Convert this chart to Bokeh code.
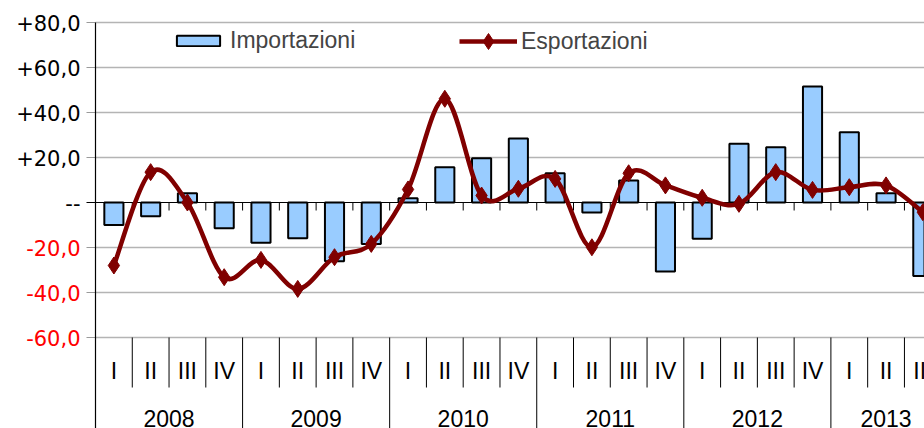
import numpy as np
from bokeh.plotting import figure
from bokeh.models import (ColumnDataSource, Range1d, Legend, LegendItem, BoxAnnotation)
from bokeh.core.properties import value
from bokeh.embed import file_html
from bokeh.resources import INLINE

# ---------------- data ----------------
years = ["2008", "2009", "2010", "2011", "2012", "2013"]
quarters_per_year = [4, 4, 4, 4, 4, 3]
quarter_names = ["I", "II", "III", "IV"]
importazioni = [-10.0, -6.1, 4.1, -11.4, -17.9, -15.9, -26.1, -18.4,
                1.9, 15.7, 19.7, 28.4, 13.0, -4.4, 9.8, -30.7,
                -16.1, 26.1, 24.6, 51.6, 31.2, 4.1, -32.7]
esportazioni = [-28.0, 13.5, 0.0, -33.2, -25.5, -38.4, -24.3, -18.4,
                5.8, 46.1, 3.1, 6.1, 10.5, -19.9, 13.0, 7.6,
                2.1, -0.6, 13.5, 5.6, 6.8, 7.6, -4.3]
y_tick_values = [-60, -40, -20, 0, 20, 40, 60, 80]
y_tick_labels = ["-60,0", "-40,0", "-20,0", "--", "+20,0", "+40,0", "+60,0", "+80,0"]
y_tick_colors = ["#ff0000", "#ff0000", "#ff0000", "#000000", "#000000", "#000000", "#000000", "#000000"]

# ---------------- layout (pixels) ----------------
W, H = 924, 428
AXIS_PX = 95        # x pixel of the value axis
ZERO_PX = 202       # y pixel of value 0
CAT_PX = 36.77      # pixels per category
UNIT_PX = 2.25      # pixels per value unit
Y_TOP = 80
Y_BOTTOM_AXIS = -60

x_start = -AXIS_PX / CAT_PX
x_end = (W - AXIS_PX) / CAT_PX
y_end = ZERO_PX / UNIT_PX
y_start = -(H - ZERO_PX) / UNIT_PX


def vy(py):
    """value for a given pixel row"""
    return (ZERO_PX - py) / UNIT_PX


def vx(px):
    return (px - AXIS_PX) / CAT_PX


LABEL_FONT = "Liberation Sans"
AXIS_FONT = "DejaVu Sans"
RED = "#800000"
GRID = "#b4b4b4"

n = len(importazioni)
centers = [i + 0.5 for i in range(n)]
cat_quarters = [quarter_names[q] for k in quarters_per_year for q in range(k)]
year_starts = list(np.cumsum([0] + quarters_per_year[:-1]))
year_bounds = set(int(v) for v in np.cumsum(quarters_per_year))
year_centers = [s + k / 2 for s, k in zip(year_starts, quarters_per_year)]

p = figure(width=W, height=H, x_range=Range1d(x_start, x_end), y_range=Range1d(y_start, y_end),
           x_axis_location=None, y_axis_location=None, output_backend="svg",
           toolbar_location=None, min_border=0,
           outline_line_color=None, background_fill_color="white", border_fill_color="white")
p.grid.visible = False

# gridlines (from tick values), tick marks and value axis
grid_vals = [v for v in y_tick_values if v != 0]
tick_x0 = -9 / CAT_PX
p.segment(x0=[0] * len(grid_vals), y0=grid_vals, x1=[x_end] * len(grid_vals), y1=grid_vals,
          line_color=GRID, line_width=1.5)
p.segment(x0=[tick_x0] * len(grid_vals), y0=grid_vals, x1=[0] * len(grid_vals), y1=grid_vals,
          line_color="#9a9a9a", line_width=1.2)

# white area behind the legend (covers the top gridline)
p.add_layout(BoxAnnotation(left=vx(118), right=vx(697), bottom=vy(30), top=vy(10),
                           fill_color="white", fill_alpha=1, line_color=None, level="underlay"))

src = ColumnDataSource(dict(x=centers, imp=importazioni, exp=esportazioni, q=cat_quarters))

bars = p.vbar(x="x", top="imp", bottom=0, width=0.52, source=src,
              fill_color="#99ccff", line_color="black", line_width=2)

# zero line + value axis line
p.segment(x0=[tick_x0], y0=[0], x1=[x_end], y1=[0], line_color="black", line_width=1.2)
p.segment(x0=[0], y0=[Y_TOP], x1=[0], y1=[y_start], line_color="black", line_width=1.2)

# small ticks on the zero line at category boundaries
bounds = list(range(1, n + 1))
p.segment(x0=bounds, y0=[0] * len(bounds), x1=bounds, y1=[-8 / UNIT_PX] * len(bounds),
          line_color="black", line_width=1)

# category separators below the plot area
q_bounds = [b for b in bounds if b not in year_bounds]
p.segment(x0=q_bounds, y0=[Y_BOTTOM_AXIS] * len(q_bounds), x1=q_bounds,
          y1=[Y_BOTTOM_AXIS - 50 / UNIT_PX] * len(q_bounds), line_color="black", line_width=1)
y_b = sorted(year_bounds)
p.segment(x0=y_b, y0=[Y_BOTTOM_AXIS] * len(y_b), x1=y_b, y1=[y_start] * len(y_b),
          line_color="black", line_width=1)

p.text(x="x", y=vy(370.5), text="q", source=src,
       text_align="center", text_baseline="middle",
       text_font=value(LABEL_FONT), text_font_size="23px", text_color="black")
p.text(x=year_centers, y=[vy(418)] * len(years), text=years,
       text_align="center", text_baseline="middle",
       text_font=value(LABEL_FONT), text_font_size="23px", text_color="black")

# y tick labels
lab_src = ColumnDataSource(dict(y=y_tick_values, t=y_tick_labels, c=y_tick_colors,
                                x=[0] * len(y_tick_values)))
p.text(x="x", y="y", text="t", text_color="c", source=lab_src,
       x_offset=-15, text_align="right", text_baseline="middle",
       text_font=value(AXIS_FONT), text_font_size="21px")

# smoothed export line (Catmull-Rom -> cubic Bezier)
xs = np.array(centers)
ys = np.array(esportazioni, dtype=float)
xp = np.concatenate([[xs[0]], xs, [xs[-1]]])
yp = np.concatenate([[ys[0]], ys, [ys[-1]]])
cx0 = xs[:-1] + (xp[2:-1] - xp[:-3]) / 6
cy0 = ys[:-1] + (yp[2:-1] - yp[:-3]) / 6
cx1 = xs[1:] - (xp[3:] - xp[1:-2]) / 6
cy1 = ys[1:] - (yp[3:] - yp[1:-2]) / 6
curve = p.bezier(x0=xs[:-1], y0=ys[:-1], x1=xs[1:], y1=ys[1:],
                 cx0=cx0, cy0=cy0, cx1=cx1, cy1=cy1, line_color=RED, line_width=4.5)
marks = p.scatter(x="x", y="exp", source=src, marker="diamond", size=17,
                  fill_color=RED, line_color=RED)

leg1 = Legend(items=[LegendItem(label="Importazioni", renderers=[bars])],
              location=(171, H - 54), orientation="horizontal",
              glyph_width=54, glyph_height=13, label_height=13, label_standoff=5,
              padding=0, margin=0, spacing=0, border_line_color=None,
              background_fill_alpha=0, label_text_font=LABEL_FONT,
              label_text_font_size="23px")
leg2 = Legend(items=[LegendItem(label="Esportazioni", renderers=[curve, marks])],
              location=(459, H - 61), orientation="horizontal",
              glyph_width=58, glyph_height=40, label_height=40, label_standoff=4,
              padding=0, margin=0, spacing=0, border_line_color=None,
              background_fill_alpha=0, label_text_font=LABEL_FONT,
              label_text_font_size="23px")
p.add_layout(leg1)
p.add_layout(leg2)

open("out.html", "w").write(file_html(p, INLINE))
